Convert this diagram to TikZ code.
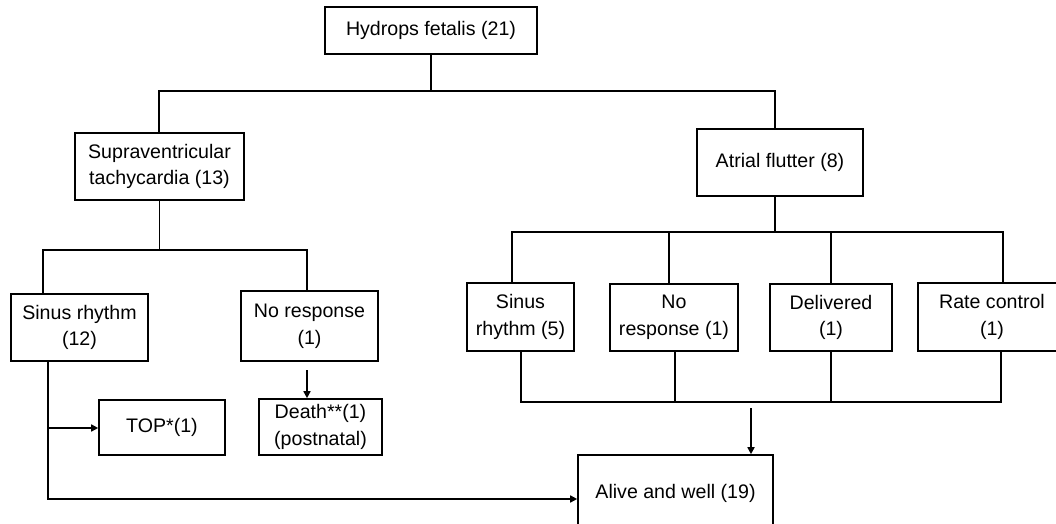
\documentclass[tikz,border=0pt]{standalone}
\usepackage{fontspec}
\setmainfont{Liberation Sans}
\usetikzlibrary{arrows.meta}

\begin{document}
\begin{tikzpicture}[
x=0.5pt, y=-0.5pt,
box/.style={draw, line width=0.8pt, align=center, inner sep=0pt, font=\fontsize{9.8}{13.3}\selectfont},
line/.style={line width=0.8pt},
arrow/.style={-{Triangle[length=3.5pt,width=3.5pt]},line width=0.8pt} ]

\useasboundingbox (0,0) rectangle (1056,524);

\node[box, minimum width=106pt, minimum height=23.5pt](hydrops) at (431,30.5) {Hydrops fetalis (21)};

\node[box, minimum width=84.5pt, minimum height=33.5pt](svt) at (159.5,166.5) {Supraventricular\\tachycardia (13)};

\node[box, minimum width=83pt, minimum height=33.5pt](atrial) at (780,162.5) {Atrial flutter (8)};

\node[box, minimum width=68.5pt, minimum height=33.5pt](sinusA) at (79.5,327.5) {Sinus rhythm\\(12)};

\node[box, minimum width=68.5pt, minimum height=35pt](noresA) at (309.5,326) {No response\\(1)};

\node[box, minimum width=63pt, minimum height=27.5pt](top) at (162,427.5) {TOP*(1)};

\node[box, minimum width=61.5pt, minimum height=28pt](death) at (320.5,427) {Death**(1)\\(postnatal)};

\node[box, minimum width=53.5pt, minimum height=34pt](sinusB) at (520.5,317) {Sinus\\rhythm (5)};

\node[box, minimum width=64pt, minimum height=33.5pt](noresB) at (674,317.5) {No\\response (1)};

\node[box, minimum width=61pt, minimum height=33.5pt](deliv) at (831,317.5) {Delivered\\(1)};

\node[box, minimum width=74pt, minimum height=34pt](rate) at (992,317) {Rate control\\(1)};

\node[box, minimum width=97.5pt, minimum height=38pt](alive) at (675.5,493) {Alive and well (19)};

\coordinate (barTopL) at (159,91);
\coordinate (barTopR) at (775,91);
\coordinate (barSvL) at (43,250);
\coordinate (barSvR) at (307,250);
\coordinate (barAfL) at (512,232);
\coordinate (tNoB) at (669,232);
\coordinate (tDel) at (831,232);
\coordinate (barAfR) at (1003,232);
\coordinate (bSinB) at (521,402);
\coordinate (bNoB) at (675,402);
\coordinate (bDel) at (831,402);
\coordinate (bRate) at (1001,402);
\coordinate (aIn) at (751,408);
\coordinate (dIn) at (307,370);
\coordinate (sTop) at (48,428);
\coordinate (sBend) at (48,499);

\draw[line] (hydrops.south) -- (hydrops.south |- barTopL);

\draw[line] (svt.north -| barTopL) -- (barTopL) -- (barTopR) -- (barTopR |- atrial.north);

\draw[line] (svt.south) -- (svt.south |- barSvL);

\draw[line] (sinusA.north -| barSvL) -- (barSvL) -- (barSvR) -- (barSvR |- noresA.north);

\draw[arrow] (dIn) -- (dIn |- death.north);

\draw[line] (sinusA.south -| sBend) -- (sTop);

\draw[arrow] (sTop) -- (sTop -| top.west);

\draw[arrow] (sTop) -- (sBend) -- (sBend -| alive.west);

\draw[line] (barTopR |- atrial.south) -- (barTopR |- barAfL);

\draw[line] (sinusB.north -| barAfL) -- (barAfL) -- (barAfR) -- (barAfR |- rate.north);

\draw[line] (tNoB) -- (tNoB |- noresB.north);

\draw[line] (tDel) -- (tDel |- deliv.north);

\draw[line] (bSinB |- sinusB.south) -- (bSinB) -- (bRate) -- (bRate |- rate.south);

\draw[line] (bNoB |- noresB.south) -- (bNoB);

\draw[line] (bDel |- deliv.south) -- (bDel);

\draw[arrow] (aIn) -- (aIn |- alive.north);
\end{tikzpicture}
\end{document}
